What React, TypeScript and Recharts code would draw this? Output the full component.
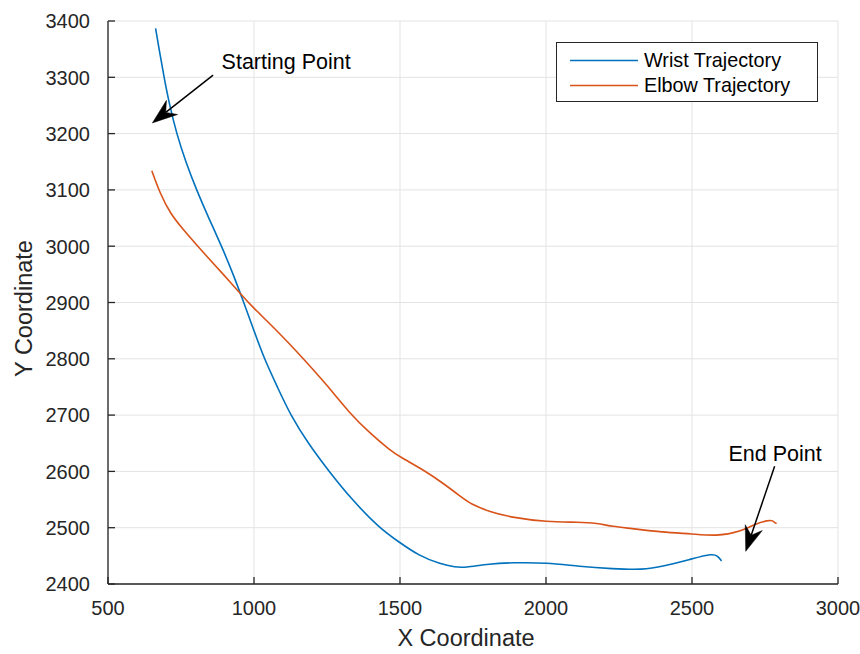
import React from 'react';
import { LineChart, Line, XAxis, YAxis, CartesianGrid, Legend, ReferenceLine, ReferenceDot, Label } from 'recharts';

const wristX = [663, 675, 692, 711, 735, 766, 803, 845, 889, 929, 965, 1000, 1035, 1080, 1125, 1185, 1257, 1335, 1428, 1495, 1565, 1640, 1690, 1720, 1807, 1886, 2002, 2115, 2228, 2331, 2399, 2502, 2570, 2588, 2601];
const wristY = [3387, 3350, 3300, 3250, 3200, 3150, 3100, 3050, 3000, 2950, 2900, 2850, 2800, 2750, 2700, 2650, 2600, 2550, 2500, 2475, 2450, 2435, 2430, 2429, 2436, 2438, 2438, 2431, 2427, 2425, 2431, 2445, 2454, 2450, 2441];

const elbowX = [650, 678, 712, 758, 804, 849, 895, 958, 991, 1077, 1168, 1249, 1328, 1397, 1465, 1499, 1579, 1648, 1716, 1739, 1807, 1886, 2002, 2115, 2173, 2229, 2286, 2399, 2502, 2584, 2663, 2721, 2776, 2783, 2790];
const elbowY = [3134, 3094, 3059, 3029, 3002, 2976, 2950, 2913, 2894, 2851, 2801, 2754, 2703, 2668, 2638, 2626, 2603, 2579, 2552, 2543, 2528, 2518, 2510, 2510, 2508, 2502, 2499, 2492, 2489, 2485, 2492, 2508, 2515, 2508, 2508];

const xTicks = [500, 1000, 1500, 2000, 2500, 3000];
const yTicks = [2400, 2500, 2600, 2700, 2800, 2900, 3000, 3100, 3200, 3300, 3400];

const startArrow = [{ x: 860, y: 3304 }, { x: 652, y: 3219 }];
const endArrow = [{ x: 2783, y: 2609 }, { x: 2684, y: 2458 }];
const startLabel = { x: 889, y: 3314, text: 'Starting Point' };
const endLabel = { x: 2625, y: 2619, text: 'End Point' };

const seriesNames = ['Wrist Trajectory', 'Elbow Trajectory'];
const seriesColors = ['#0072BD', '#D95319'];

const wristData = wristX.map((x, i) => ({ x, y: wristY[i] }));
const elbowData = elbowX.map((x, i) => ({ x, y: elbowY[i] }));

const FONT = "'Liberation Sans', Arial, Helvetica, sans-serif";
const AXIS = '#262626';

const XTick = (props: any) => {
  const { x, y, payload } = props;
  return (
    <g>
      <line x1={x} y1={y} x2={x} y2={y - 7} stroke={AXIS} strokeWidth={1.3} />
      <text x={x} y={y + 31} textAnchor="middle" fontSize={20} fontFamily={FONT} fill={AXIS}>
        {payload.value}
      </text>
    </g>
  );
};

const YTick = (props: any) => {
  const { x, y, payload } = props;
  return (
    <g>
      <line x1={x} y1={y} x2={x + 7} y2={y} stroke={AXIS} strokeWidth={1.3} />
      <text x={x - 18} y={y + 7.3} textAnchor="end" fontSize={20} fontFamily={FONT} fill={AXIS}>
        {payload.value}
      </text>
    </g>
  );
};

const Arrow = (props: any) => {
  const { x1, y1, x2, y2 } = props;
  if ([x1, y1, x2, y2].some((v) => typeof v !== 'number' || isNaN(v))) return null;
  const dx = x2 - x1;
  const dy = y2 - y1;
  const len = Math.hypot(dx, dy) || 1;
  const ux = dx / len;
  const uy = dy / len;
  const nx = -uy;
  const ny = ux;
  const L = 25;
  const W = 9;
  const N = 17;
  const bx = x2 - ux * L;
  const by = y2 - uy * L;
  const ntx = x2 - ux * N;
  const nty = y2 - uy * N;
  const pts = `${x2},${y2} ${bx + nx * W},${by + ny * W} ${ntx},${nty} ${bx - nx * W},${by - ny * W}`;
  return (
    <g>
      <line x1={x1} y1={y1} x2={ntx} y2={nty} stroke="#000" strokeWidth={1.5} />
      <polygon points={pts} fill="#000" stroke="#000" strokeWidth={0.5} />
    </g>
  );
};

const makeText = (text: string) => (props: any) => {
  const { cx, cy } = props;
  return (
    <text x={cx} y={cy} fontSize={21.5} fontFamily={FONT} fill="#000">
      {text}
    </text>
  );
};

const renderLegend = () => {
  return (
    <div
      style={{
        position: 'relative',
        width: 262,
        height: 60,
        border: `1.3px solid ${AXIS}`,
        background: '#fff',
        boxSizing: 'border-box',
        fontFamily: FONT,
      }}
    >
      {seriesNames.map((name, i) => (
        <div key={name} style={{ position: 'absolute', left: 0, top: 4.5 + 25 * i, height: 25, width: 260 }}>
          <svg width={82} height={25} style={{ position: 'absolute', left: 0, top: 0 }}>
            <line x1={13} y1={12.5} x2={81} y2={12.5} stroke={seriesColors[i]} strokeWidth={1.6} />
          </svg>
          <span
            style={{
              position: 'absolute',
              left: 87,
              top: 0,
              lineHeight: '25px',
              fontSize: 19.8,
              color: '#000',
              whiteSpace: 'nowrap',
            }}
          >
            {name}
          </span>
        </div>
      ))}
    </div>
  );
};

export default function App() {
  return (
    <div style={{ position: 'absolute', left: 0, top: 0, width: 860, height: 654, background: '#fff' }}>
      <LineChart width={860} height={654} margin={{ top: 21, right: 22, left: 0, bottom: 0 }} style={{ fontFamily: FONT }}>
        <CartesianGrid stroke="#e3e3e3" strokeWidth={1} />
        <XAxis
          dataKey="x"
          type="number"
          domain={[500, 3000]}
          ticks={xTicks}
          allowDataOverflow
          height={70}
          tickSize={0}
          tickMargin={0}
          tickLine={false}
          axisLine={{ stroke: AXIS, strokeWidth: 1.3 }}
          tick={<XTick />}
          interval={0}
        >
          <Label
            content={(p: any) => {
              const vb = p.viewBox || {};
              return (
                <text x={vb.x + vb.width / 2 - 7} y={646} textAnchor="middle" fontSize={23.5} fontFamily={FONT} fill={AXIS}>
                  X Coordinate
                </text>
              );
            }}
          />
        </XAxis>
        <YAxis
          dataKey="y"
          type="number"
          domain={[2400, 3400]}
          ticks={yTicks}
          allowDataOverflow
          width={108}
          tickSize={0}
          tickMargin={0}
          tickLine={false}
          axisLine={{ stroke: AXIS, strokeWidth: 1.3 }}
          tick={<YTick />}
          interval={0}
        >
          <Label
            content={(p: any) => {
              const vb = p.viewBox || {};
              const cy = vb.y + vb.height / 2 + 6;
              return (
                <text
                  x={32}
                  y={cy}
                  transform={`rotate(-90, 32, ${cy})`}
                  textAnchor="middle"
                  fontSize={23.5}
                  fontFamily={FONT}
                  fill={AXIS}
                >
                  Y Coordinate
                </text>
              );
            }}
          />
        </YAxis>
        <Line
          data={wristData}
          dataKey="y"
          name={seriesNames[0]}
          type="basis"
          stroke={seriesColors[0]}
          strokeWidth={1.6}
          dot={false}
          isAnimationActive={false}
        />
        <Line
          data={elbowData}
          dataKey="y"
          name={seriesNames[1]}
          type="basis"
          stroke={seriesColors[1]}
          strokeWidth={1.6}
          dot={false}
          isAnimationActive={false}
        />
        <ReferenceLine segment={startArrow} shape={Arrow} ifOverflow="visible" />
        <ReferenceLine segment={endArrow} shape={Arrow} ifOverflow="visible" />
        <ReferenceDot x={startLabel.x} y={startLabel.y} r={0} shape={makeText(startLabel.text)} ifOverflow="visible" />
        <ReferenceDot x={endLabel.x} y={endLabel.y} r={0} shape={makeText(endLabel.text)} ifOverflow="visible" />
        <Legend
          layout="vertical"
          align="center"
          verticalAlign="middle"
          wrapperStyle={{ position: 'absolute', left: 556, top: 42, width: 262, height: 60 }}
          content={renderLegend}
        />
      </LineChart>
    </div>
  );
}
